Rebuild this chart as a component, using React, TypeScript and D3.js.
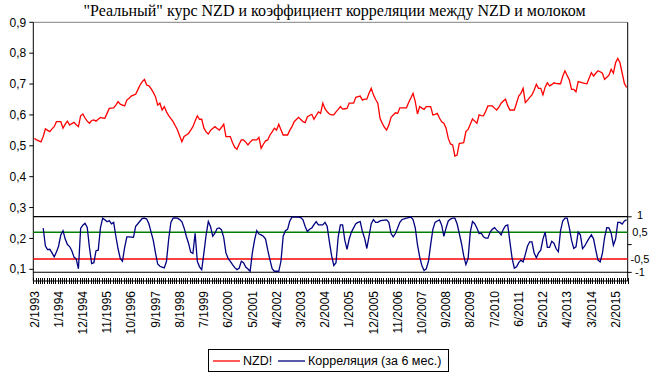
import React from "react";
import * as d3 from "d3";

// ---------- data ----------
const startYear = 1993;
const startMonth = 2; // February
const nzd: number[] = [
  0.524, 0.519, 0.516, 0.513, 0.530, 0.555, 0.550, 0.546, 0.555, 0.562,
  0.578, 0.578, 0.578, 0.557, 0.570, 0.580, 0.567, 0.572, 0.576, 0.568,
  0.562, 0.597, 0.603, 0.590, 0.580, 0.573, 0.582, 0.584, 0.580, 0.586,
  0.592, 0.590, 0.589, 0.605, 0.621, 0.622, 0.623, 0.632, 0.643, 0.635,
  0.632, 0.629, 0.648, 0.654, 0.661, 0.664, 0.667, 0.682, 0.697, 0.708,
  0.715, 0.697, 0.694, 0.685, 0.673, 0.659, 0.632, 0.638, 0.616, 0.627,
  0.610, 0.598, 0.588, 0.578, 0.565, 0.551, 0.532, 0.513, 0.530, 0.535,
  0.540, 0.551, 0.562, 0.580, 0.597, 0.586, 0.586, 0.557, 0.545, 0.538,
  0.550, 0.556, 0.562, 0.556, 0.551, 0.560, 0.570, 0.530, 0.530, 0.530,
  0.510, 0.495, 0.489, 0.505, 0.519, 0.519, 0.512, 0.503, 0.512, 0.519,
  0.519, 0.519, 0.527, 0.492, 0.505, 0.516, 0.519, 0.535, 0.545, 0.557,
  0.551, 0.570, 0.552, 0.535, 0.535, 0.535, 0.550, 0.562, 0.578, 0.585,
  0.592, 0.585, 0.578, 0.575, 0.594, 0.598, 0.602, 0.586, 0.598, 0.610,
  0.605, 0.638, 0.620, 0.610, 0.603, 0.600, 0.600, 0.610, 0.618, 0.627,
  0.619, 0.620, 0.621, 0.638, 0.638, 0.638, 0.657, 0.659, 0.661, 0.648,
  0.651, 0.651, 0.670, 0.686, 0.665, 0.650, 0.638, 0.589, 0.573, 0.560,
  0.551, 0.567, 0.592, 0.600, 0.607, 0.605, 0.623, 0.623, 0.623, 0.623,
  0.640, 0.655, 0.670, 0.643, 0.603, 0.627, 0.622, 0.618, 0.627, 0.627,
  0.627, 0.600, 0.602, 0.605, 0.590, 0.578, 0.573, 0.557, 0.524, 0.506,
  0.503, 0.467, 0.470, 0.508, 0.509, 0.510, 0.546, 0.553, 0.570, 0.587,
  0.580, 0.573, 0.600, 0.598, 0.597, 0.612, 0.629, 0.629, 0.629, 0.622,
  0.616, 0.625, 0.638, 0.645, 0.651, 0.630, 0.616, 0.616, 0.616, 0.638,
  0.661, 0.670, 0.686, 0.640, 0.648, 0.657, 0.665, 0.680, 0.699, 0.686,
  0.686, 0.665, 0.690, 0.704, 0.694, 0.698, 0.704, 0.702, 0.701, 0.701,
  0.725, 0.743, 0.728, 0.713, 0.683, 0.683, 0.675, 0.708, 0.706, 0.704,
  0.702, 0.701, 0.720, 0.737, 0.726, 0.735, 0.743, 0.740, 0.735, 0.715,
  0.722, 0.729, 0.748, 0.735, 0.769, 0.783, 0.769, 0.735, 0.702, 0.689,
];

const correlation: (number | null)[] = [
  null, null, null, null, 0.59, -0.05, -0.18, -0.17, -0.30, -0.44,
  -0.27, -0.05, 0.35, 0.50, 0.20, 0.0, -0.07, -0.22, -0.45, -0.52,
  -0.87, 0.58, 0.70, 0.77, 0.62, -0.10, -0.68, -0.65, -0.22, -0.20,
  0.60, 0.95, 0.89, 0.82, 0.86, 0.75, 0.80, 0.30, -0.15, -0.50,
  -0.60, -0.10, 0.28, 0.28, 0.27, 0.26, 0.66, 0.75, 0.85, 0.94,
  0.95, 0.92, 0.75, 0.45, 0.15, -0.30, -0.70, -0.78, -0.81, -0.84,
  -0.60, 0.20, 0.80, 0.95, 0.96, 0.95, 0.90, 0.82, 0.60, 0.30,
  0.05, -0.27, -0.32, 0.41, -0.60, -0.80, -0.90, -0.30, 0.35, 0.83,
  0.65, 0.30, 0.41, 0.58, 0.60, 0.53, 0.25, -0.30, -0.50, -0.60,
  -0.72, -0.83, -0.90, -0.85, -0.60, -0.65, -0.81, -0.88, -0.96, -0.30,
  0.16, 0.50, 0.38, 0.35, 0.30, 0.20, -0.20, -0.55, -0.87, -0.96,
  -0.96, -0.96, -0.60, 0.30, 0.50, 0.55, 0.85, 0.99, 0.99, 0.99,
  0.99, 0.97, 0.89, 0.65, 0.47, 0.55, 0.60, 0.72, 0.83, 0.71,
  0.71, 0.71, 0.80, 0.65, 0.10, -0.40, -0.75, -0.65, 0.28, 0.71,
  0.71, 0.16, -0.17, 0.20, 0.45, 0.60, 0.75, 0.80, 0.83, 0.47,
  0.23, -0.14, 0.30, 0.75, 0.90, 0.80, 0.80, 0.85, 0.87, 0.88,
  0.89, 0.80, 0.40, 0.28, 0.40, 0.60, 0.80, 0.90, 0.93, 0.95,
  0.97, 0.99, 0.90, 0.60, 0.0, -0.44, -0.75, -0.93, -0.87, -0.60,
  0.0, 0.55, 0.80, 0.85, 0.89, 0.70, 0.30, 0.60, 0.85, 0.92,
  0.95, 0.95, 0.75, 0.40, 0.04, -0.40, -0.72, -0.50, 0.45, 0.83,
  0.75, 0.60, 0.40, 0.41, 0.28, 0.23, 0.23, 0.45, 0.55, 0.61,
  0.52, 0.45, 0.35, 0.55, 0.68, 0.71, 0.10, -0.50, -0.85, -0.80,
  -0.65, -0.56, -0.62, -0.35, -0.05, 0.10, 0.10, -0.30, -0.47, -0.30,
  -0.20, 0.20, 0.45, -0.10, -0.10, 0.12, 0.05, -0.15, -0.26, 0.50,
  0.85, 0.95, 0.95, 0.60, 0.15, -0.14, -0.08, 0.45, 0.35, -0.15,
  -0.05, 0.10, 0.23, 0.35, 0.20, -0.20, -0.56, -0.62, -0.32, 0.25,
  0.61, 0.60, 0.41, -0.02, 0.20, 0.80, 0.80, 0.74, 0.85, 0.89,
];

const categories: string[] = nzd.map((_, i) => {
  const m = startMonth - 1 + i;
  return `${(m % 12) + 1}/${startYear + Math.floor(m / 12)}`;
});
const labelStep = 11;
const xTickLabels: string[] = [
  "2/1993", "1/1994", "12/1994", "11/1995", "10/1996", "9/1997", "8/1998",
  "7/1999", "6/2000", "5/2001", "4/2002", "3/2003", "2/2004", "1/2005",
  "12/2005", "11/2006", "10/2007", "9/2008", "8/2009", "7/2010", "6/2011",
  "5/2012", "4/2013", "3/2014", "2/2015",
];
const yTicks: number[] = [0.1, 0.2, 0.3, 0.4, 0.5, 0.6, 0.7, 0.8, 0.9];
const rightLabels: { text: string; level: number }[] = [
  { text: "1", level: 0.2745 },
  { text: "0,5", level: 0.2205 },
  { text: "-0,5", level: 0.1335 },
  { text: "-1", level: 0.0905 },
];
const rightTicks: number[] = [1, 0, -1];
// reference lines on the primary scale
const refLines: { level: number; color: string; width: number }[] = [
  { level: 0.2705, color: "#000000", width: 1.2 },
  { level: 0.2198, color: "#008000", width: 1.5 },
  { level: 0.1334, color: "#FF0000", width: 1.3 },
  { level: 0.0905, color: "#000000", width: 1.2 },
];
const title = "\"Реальный\" курс NZD и коэффициент корреляции между NZD и молоком";
const legendItems = [
  { label: "NZD!", color: "#FF0000" },
  { label: "Корреляция (за 6 мес.)", color: "#000080" },
];

// ---------- layout ----------
const W = 650;
const H = 377;
const left = 33.3;
const right = 627.7;
const top = 22.3;
const bottom = 281;
const axisFont = "Arial, 'Liberation Sans', sans-serif";

export default function App() {
  const x = d3.scaleLinear().domain([0, nzd.length]).range([left, right]);
  const y = d3.scaleLinear().domain([0.0621, 0.9]).range([bottom, top]);
  const yc = d3.scaleLinear().domain([-1, 1]).range([y(0.09), y(0.27)]);

  const redLine = d3
    .line<number>()
    .x((_, i) => x(i + 0.5))
    .y((d) => y(d));
  const blueLine = d3
    .line<number | null>()
    .defined((d) => d !== null)
    .x((_, i) => x(i + 0.5))
    .y((d) => yc(d as number));

  const tickIdx = d3.range(nzd.length + 1);

  return (
    <svg
      width={W}
      height={H}
      style={{ position: "absolute", left: 0, top: 0, background: "#fff" }}
    >
      <text
        x={334.5}
        y={15.5}
        textAnchor="middle"
        fontFamily="'Liberation Serif', 'Times New Roman', serif"
        fontSize={16}
        fill="#000"
      >
        {title}
      </text>

      {/* plot frame */}
      <line x1={left} x2={right} y1={top} y2={top} stroke="#808080" />
      <line x1={left} x2={left} y1={top} y2={bottom} stroke="#000" />
      <line x1={right} x2={right} y1={top} y2={bottom} stroke="#000" />

      {/* reference lines */}
      {refLines.map((r, k) => (
        <line
          key={k}
          x1={left}
          x2={right}
          y1={y(r.level)}
          y2={y(r.level)}
          stroke={r.color}
          strokeWidth={r.width}
        />
      ))}

      {/* series */}
      <path d={redLine(nzd) || ""} fill="none" stroke="#FF0000" strokeWidth={1.3} />
      <path
        d={blueLine(correlation) || ""}
        fill="none"
        stroke="#000080"
        strokeWidth={1.3}
      />

      {/* left axis */}
      {yTicks.map((t) => (
        <g key={t}>
          <line x1={left - 4} x2={left} y1={y(t)} y2={y(t)} stroke="#000" />
          <text
            x={left - 7}
            y={y(t)}
            dy="0.35em"
            textAnchor="end"
            fontFamily={axisFont}
            fontSize={12}
            fill="#000"
          >
            {d3.format(".1f")(t).replace(".", ",")}
          </text>
        </g>
      ))}

      {/* right axis */}
      {rightTicks.map((t) => (
        <line
          key={t}
          x1={right}
          x2={right + 4}
          y1={yc(t)}
          y2={yc(t)}
          stroke="#000"
        />
      ))}
      {rightLabels.map((r) => (
        <text
          key={r.text}
          x={640}
          y={y(r.level)}
          dy="0.35em"
          textAnchor="middle"
          fontFamily={axisFont}
          fontSize={11}
          fill="#000"
        >
          {r.text}
        </text>
      ))}

      {/* x axis */}
      <line x1={left} x2={right} y1={bottom} y2={bottom} stroke="#000" />
      {tickIdx.map((i) => (
        <line
          key={i}
          x1={Math.round(x(i)) + 0.5}
          x2={Math.round(x(i)) + 0.5}
          y1={bottom - 3}
          y2={bottom + 3}
          stroke="#000"
        />
      ))}
      {xTickLabels.map((lab, k) => {
        const idx = k * labelStep;
        return (
          <text
            key={lab}
            transform={`translate(${x(idx + 0.5)},${291}) rotate(-90)`}
            dy="0.35em"
            textAnchor="end"
            fontFamily={axisFont}
            fontSize={12}
            fill="#000"
            data-cat={categories[idx]}
          >
            {lab}
          </text>
        );
      })}

      {/* legend */}
      <rect x={208.5} y={349.5} width={240} height={22} fill="#fff" stroke="#000" />
      {legendItems.map((it, k) => {
        const lx = k === 0 ? 213 : 278;
        return (
          <g key={it.label}>
            <line x1={lx} x2={lx + 27} y1={361} y2={361} stroke={it.color} strokeWidth={1.3} />
            <text
              x={lx + 30}
              y={361}
              dy="0.35em"
              fontFamily={axisFont}
              fontSize={12.5}
              fill="#000"
            >
              {it.label}
            </text>
          </g>
        );
      })}
    </svg>
  );
}
